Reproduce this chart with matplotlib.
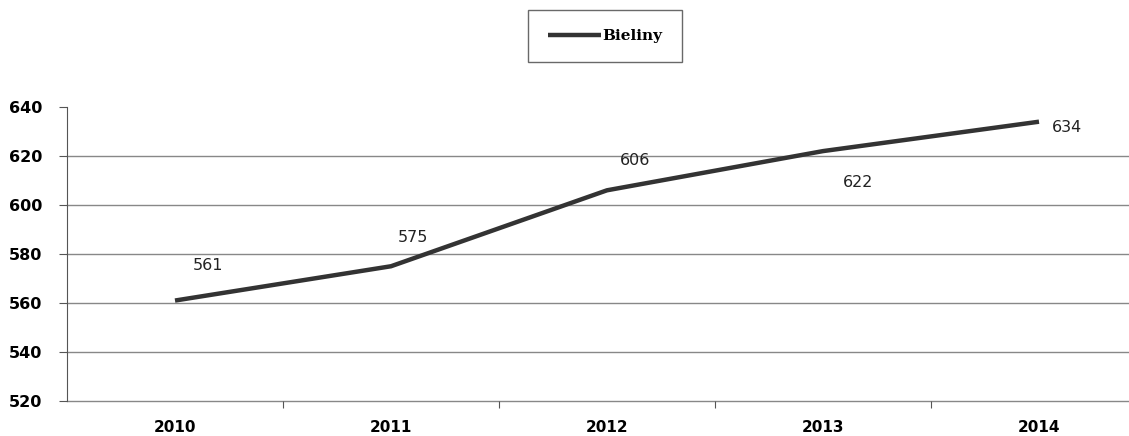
import matplotlib
matplotlib.use("Agg")
import matplotlib.pyplot as plt

# values
years = ["2010", "2011", "2012", "2013", "2014"]
bieliny = [561, 575, 606, 622, 634]
y_ticks = [520, 540, 560, 580, 600, 620, 640]
# where each data label sits relative to its point (pixels)
label_offsets = [(33, 35), (22, 29), (28, 30), (35, -31), (28, -6)]

fig = plt.figure(figsize=(11.29, 4.36), dpi=100)
ax = fig.add_axes([67 / 1129, 1 - 401 / 436, 1080 / 1129, 294 / 436])

x = list(range(len(years)))
line, = ax.plot(x, bieliny, color="#333333", lw=3.2, solid_capstyle="butt",
                label="Bieliny", zorder=3)

for xi, v, (dx, dy) in zip(x, bieliny, label_offsets):
    ax.annotate(str(v), (xi, v), xytext=(dx, dy), textcoords="offset pixels",
                ha="center", va="center", fontsize=11.5, color="#222222")

ax.set_xlim(-0.5, 4.5)
ax.set_ylim(520, 640)
ax.set_yticks(y_ticks)
ax.set_yticklabels([str(t) for t in y_ticks], fontweight="bold", fontsize=11.5)
ax.set_xticks([i + 0.5 for i in x])
ax.set_xticklabels([])
ax.set_xticks(x, minor=True)
ax.set_xticklabels(years, minor=True, fontweight="bold", fontsize=11)
ax.tick_params(axis="x", which="minor", length=0, pad=14)
ax.tick_params(axis="x", which="major", length=5, direction="out", color="#555555")
ax.tick_params(axis="y", length=6, direction="out", pad=12, color="#555555")

for t in y_ticks[:-1]:
    ax.axhline(t, color="#888888", lw=1, zorder=1, clip_on=False)

for s in ["top", "right"]:
    ax.spines[s].set_visible(False)
ax.spines["bottom"].set_visible(False)
ax.spines["left"].set_color("#555555")

leg = fig.legend(handles=[line], loc="center", bbox_to_anchor=(605 / 1129, 1 - 36 / 436),
                 prop={"family": "DejaVu Serif", "weight": "bold", "size": 11},
                 fancybox=False, edgecolor="#444444", handlelength=3.5,
                 borderpad=1.25, borderaxespad=0, handletextpad=0.1)
leg.get_frame().set_linewidth(1)

fig.savefig("out.png", dpi=100)
